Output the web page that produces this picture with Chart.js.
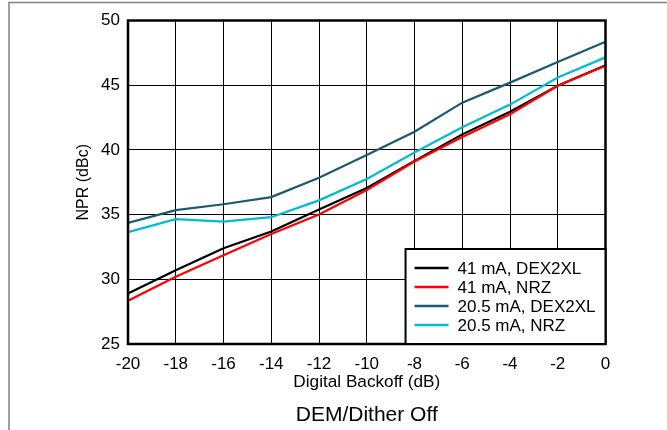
<!DOCTYPE html>
<html>
<head>
<meta charset="utf-8">
<script src="https://cdn.jsdelivr.net/npm/chart.js@4.4.1/dist/chart.umd.min.js"></script>
<style>
  body { margin: 0; background: #fff; }
</style>
</head>
<body>
<canvas id="nprChart" width="667" height="430"></canvas>
<script>
// data
const backoff = [-20, -18, -16, -14, -12, -10, -8, -6, -4, -2, 0];
const seriesNames = ['41 mA, DEX2XL', '41 mA, NRZ', '20.5 mA, DEX2XL', '20.5 mA, NRZ'];
const npr41Dex = [28.9, 30.7, 32.4, 33.7, 35.4, 37.05, 39.15, 41.2, 42.95, 44.95, 46.55];
const npr41Nrz = [28.35, 30.2, 31.85, 33.5, 35.0, 36.9, 39.1, 41.0, 42.75, 44.95, 46.5];
const npr20Dex = [34.35, 35.35, 35.8, 36.35, 37.85, 39.6, 41.4, 43.65, 45.2, 46.8, 48.35];
const npr20Nrz = [33.65, 34.65, 34.45, 34.8, 36.1, 37.75, 39.8, 41.75, 43.5, 45.6, 47.15];
const yTicks = [25, 30, 35, 40, 45, 50];

const FONT = '"Liberation Sans", Arial, sans-serif';
const colors = ['#000000', '#ff0000', '#1a5b6e', '#00bcd0'];
const drawOrder = [1, 0, 3, 2]; // red sits over black

const toPoints = (vals) => backoff.map((x, i) => ({ x: x, y: vals[i] }));

const pageFrame = {
  id: 'pageFrame',
  beforeDraw(chart) {
    const c = chart.ctx;
    c.save();
    c.fillStyle = '#fff';
    c.fillRect(0, 0, chart.width, chart.height);
    c.strokeStyle = '#808080';
    c.lineWidth = 1.5;
    c.beginPath();
    c.moveTo(9, chart.height);
    c.lineTo(9, 2.5);
    c.lineTo(chart.width, 2.5);
    c.stroke();
    c.restore();
  }
};

// plot border + boxed legend in the lower right corner
const boxLegend = {
  id: 'boxLegend',
  afterDatasetsDraw(chart) {
    const c = chart.ctx;
    const a = chart.chartArea;
    c.save();
    c.strokeStyle = '#000';
    c.lineWidth = 2.5;
    c.strokeRect(a.left, a.top, a.right - a.left, a.bottom - a.top);

    c.font = '17px ' + FONT;
    const ds = chart.data.datasets;
    let maxW = 0;
    ds.forEach(d => { maxW = Math.max(maxW, c.measureText(d.label).width); });
    const rowH = 19;
    const w = 9 + 34 + 9 + maxW + 10;
    const h = ds.length * rowH + 19;
    const left = a.right - w;
    const top = a.bottom - h;
    c.fillStyle = '#fff';
    c.fillRect(left, top, w, h);
    c.lineWidth = 2;
    c.strokeRect(left, top, w, h);
    c.textBaseline = 'middle';
    ds.forEach((d, i) => {
      const y = top + 19 + i * rowH;
      c.strokeStyle = d.borderColor;
      c.lineWidth = 2.5;
      c.beginPath();
      c.moveTo(left + 9, y);
      c.lineTo(left + 43, y);
      c.stroke();
      c.fillStyle = '#000';
      c.fillText(d.label, left + 52, y + 1);
    });
    c.restore();
  }
};

new Chart(document.getElementById('nprChart'), {
  type: 'line',
  data: {
    datasets: [npr41Dex, npr41Nrz, npr20Dex, npr20Nrz].map((vals, i) => ({
      label: seriesNames[i],
      data: toPoints(vals),
      borderColor: colors[i],
      backgroundColor: colors[i],
      borderWidth: 2.2,
      pointRadius: 0,
      tension: 0,
      order: drawOrder[i]
    }))
  },
  options: {
    responsive: false,
    animation: false,
    layout: { padding: { left: 0, top: 20.5, right: 61.5, bottom: 0 } },
    plugins: {
      legend: { display: false },
      tooltip: { enabled: false },
      title: {
        display: true,
        text: 'DEM/Dither Off',
        position: 'bottom',
        fullSize: false,
        color: '#000',
        font: { family: FONT, size: 21, weight: 'normal' },
        padding: { top: 0, bottom: 2.4 }
      }
    },
    scales: {
      x: {
        type: 'linear',
        min: -20,
        max: 0,
        afterFit(s) { s.height = 58.4; },
        ticks: { stepSize: 2, color: '#000', padding: 10, font: { family: FONT, size: 17 } },
        grid: { color: '#000', lineWidth: 1, drawTicks: false },
        border: { display: false },
        title: {
          display: true,
          text: 'Digital Backoff (dB)',
          color: '#000',
          font: { family: FONT, size: 17.2 },
          padding: { top: 0, bottom: 9.5 }
        }
      },
      y: {
        min: yTicks[0],
        max: yTicks[yTicks.length - 1],
        afterFit(s) { s.width = 128; },
        afterBuildTicks(s) { s.ticks = yTicks.map(v => ({ value: v })); },
        ticks: { color: '#000', padding: 8, font: { family: FONT, size: 17 } },
        grid: { color: '#000', lineWidth: 1, drawTicks: false },
        border: { display: false },
        title: {
          display: true,
          text: 'NPR (dBc)',
          color: '#000',
          font: { family: FONT, size: 16 },
          padding: { top: 74, bottom: 0 }
        }
      }
    }
  },
  plugins: [pageFrame, boxLegend]
});
</script>
</body>
</html>
